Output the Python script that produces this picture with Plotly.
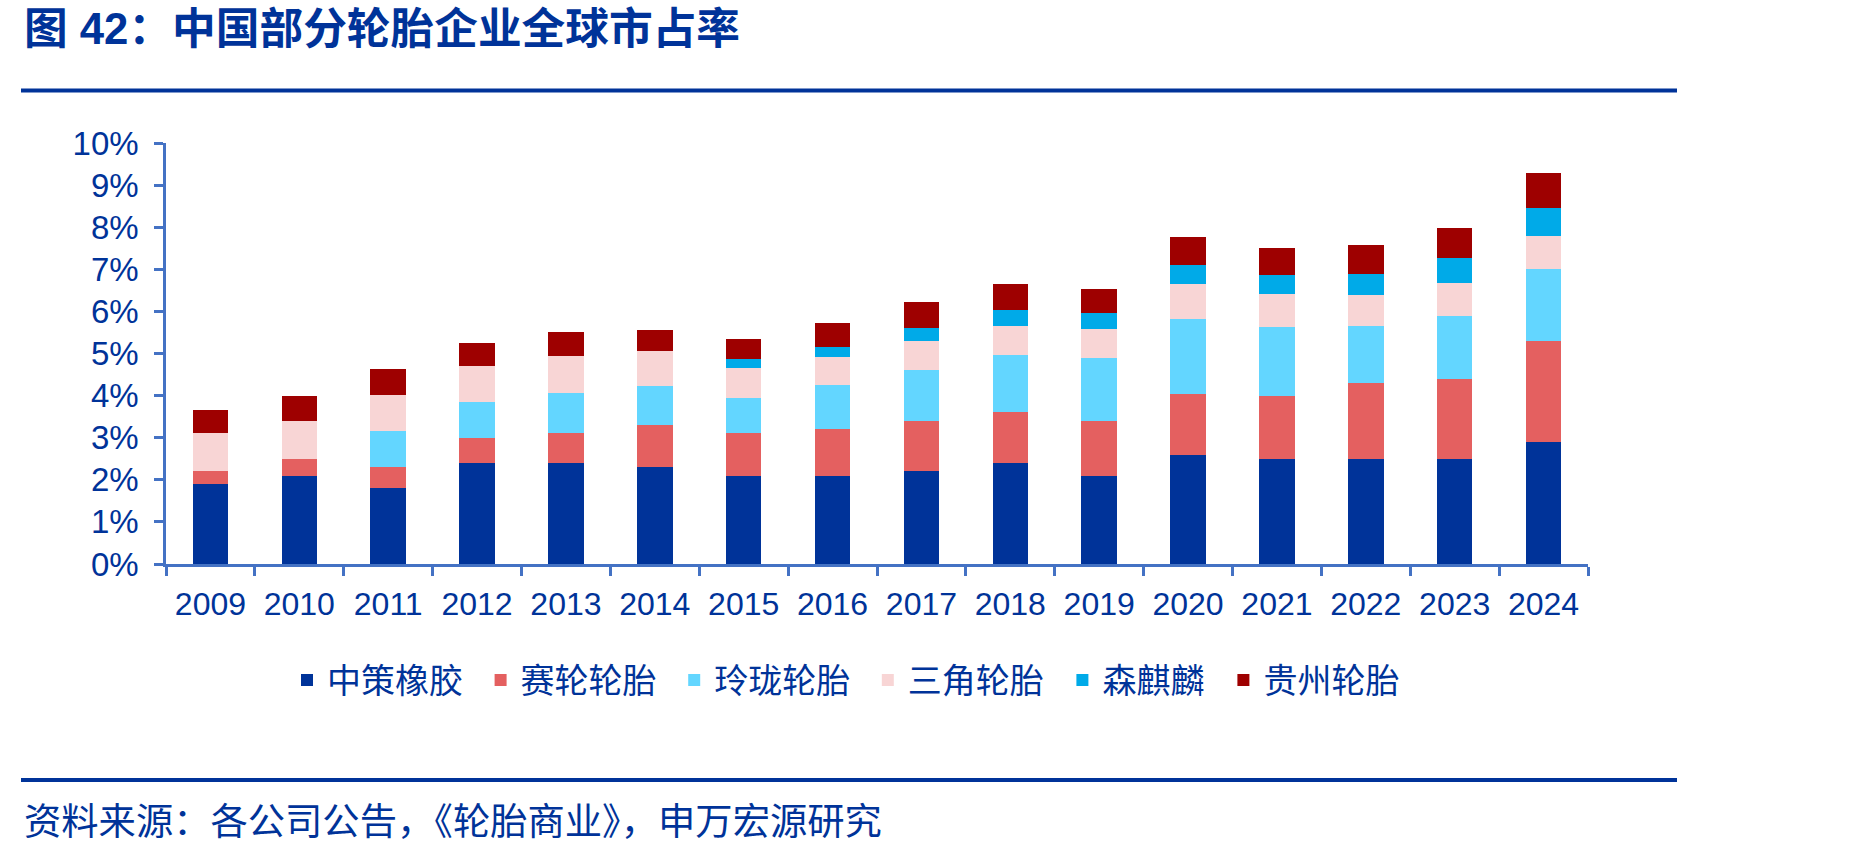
import plotly.graph_objects as go

years = [str(y) for y in range(2009, 2025)]
zhongce = [1.9, 2.1, 1.8, 2.4, 2.4, 2.3, 2.1, 2.1, 2.2, 2.4, 2.1, 2.6, 2.5, 2.5, 2.5, 2.9]
sailun = [0.3, 0.4, 0.5, 0.6, 0.7, 1.0, 1.0, 1.1, 1.2, 1.2, 1.3, 1.45, 1.5, 1.8, 1.9, 2.4]
linglong = [0, 0, 0.87, 0.85, 0.97, 0.92, 0.85, 1.05, 1.2, 1.37, 1.5, 1.77, 1.63, 1.35, 1.5, 1.71]
sanjiao = [0.9, 0.9, 0.85, 0.85, 0.88, 0.83, 0.71, 0.67, 0.7, 0.68, 0.69, 0.83, 0.78, 0.74, 0.78, 0.79]
senqilin = [0, 0, 0, 0, 0, 0, 0.22, 0.23, 0.31, 0.39, 0.38, 0.46, 0.45, 0.51, 0.58, 0.66]
guizhou = [0.55, 0.6, 0.62, 0.56, 0.56, 0.5, 0.46, 0.58, 0.61, 0.61, 0.57, 0.65, 0.65, 0.68, 0.71, 0.83]

names = ["中策橡胶", "赛轮轮胎", "玲珑轮胎", "三角轮胎", "森麒麟", "贵州轮胎"]
colors = ["#003399", "#E46060", "#63D6FF", "#F8D5D5", "#00AAE8", "#9E0000"]
values = [zhongce, sailun, linglong, sanjiao, senqilin, guizhou]
legend_widths = [148.6, 148.6, 148.6, 149.6, 116, 148.6]

title_text = "图 42：中国部分轮胎企业全球市占率"
source_text = "资料来源：各公司公告，《轮胎商业》，申万宏源研究"

W, H = 1849, 856
L, R, T, B = 166, 1588, 142.7, 564.5
NAVY = "#003399"
AXIS = "#4472C4"
FONT = "Arial, 'Liberation Sans', 'Noto Sans CJK SC', sans-serif"


def fx(px):
    return (px - L) / (R - L)


def fy(py):
    return (B - py) / (B - T)


fig = go.Figure()
for name, vals, color, lw in zip(names, values, colors, legend_widths):
    fig.add_trace(go.Bar(x=years, y=vals, name=name, legendwidth=lw,
                         marker=dict(color=color, line=dict(width=0))))

fig.update_layout(
    barmode="stack", bargap=0.6,
    width=W, height=H,
    margin=dict(l=L, r=W - R, t=T, b=H - B, pad=0),
    plot_bgcolor="white", paper_bgcolor="white",
    font=dict(family=FONT, color=NAVY),
    showlegend=True,
    legend=dict(orientation="h", x=fx(287), xanchor="left", y=fy(681), yanchor="middle",
                font=dict(size=34, color=NAVY), traceorder="normal", bgcolor="rgba(0,0,0,0)"),
)

fig.update_yaxes(range=[0, 10], dtick=1, ticksuffix="%", showgrid=False, zeroline=False,
                 showline=True, linecolor=AXIS, linewidth=2.5,
                 ticks="outside", ticklen=9, tickwidth=2.5, tickcolor=AXIS,
                 tickfont=dict(size=33, color=NAVY), ticklabelstandoff=9)
fig.update_xaxes(type="category", tickson="boundaries", showgrid=False,
                 showline=True, linecolor=AXIS, linewidth=2.5,
                 ticks="outside", ticklen=9, tickwidth=2.5, tickcolor=AXIS,
                 tickfont=dict(size=32, color=NAVY), ticklabelstandoff=10)

fig.add_annotation(text="<b>" + title_text + "</b>", xref="paper", yref="paper",
                   x=fx(22), y=fy(28), xanchor="left", yanchor="middle", showarrow=False,
                   font=dict(size=43.7, color=NAVY, family=FONT))
fig.add_annotation(text=source_text, xref="paper", yref="paper",
                   x=fx(22), y=fy(823), xanchor="left", yanchor="middle", showarrow=False,
                   font=dict(size=37.3, color=NAVY, family=FONT))

for yy in (90, 781):
    fig.add_shape(type="line", xref="paper", yref="paper",
                  x0=fx(21), x1=fx(1677), y0=fy(yy), y1=fy(yy),
                  line=dict(color=NAVY, width=4))

fig.write_html("out.html")
